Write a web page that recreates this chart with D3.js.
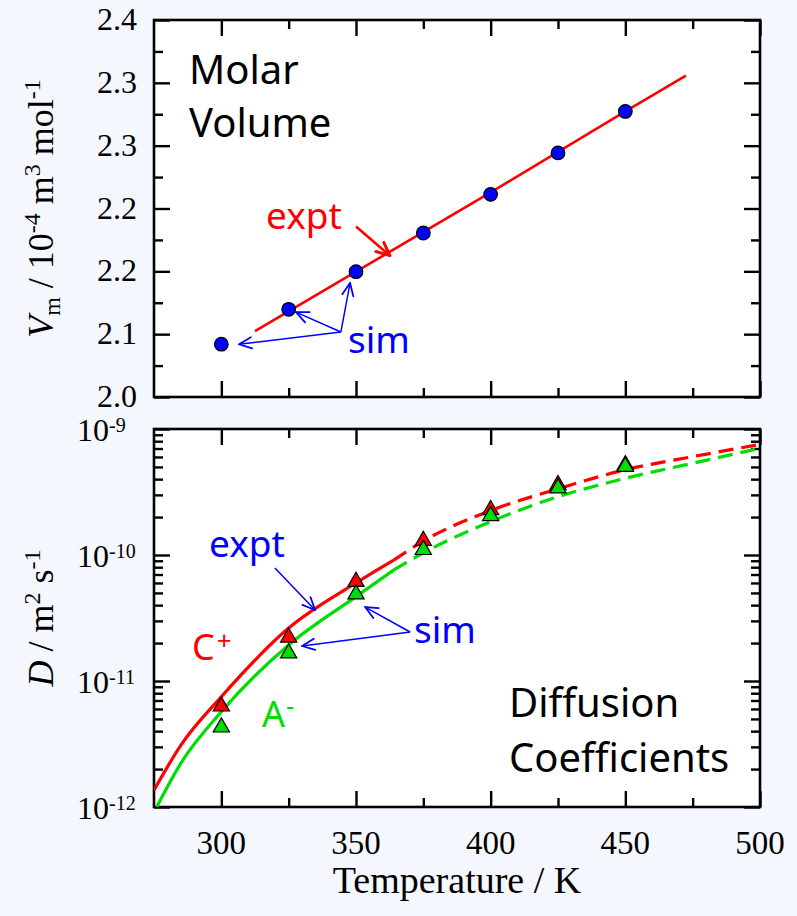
<!DOCTYPE html>
<html>
<head>
<meta charset="utf-8">
<script src="https://cdn.jsdelivr.net/npm/d3@7"></script>
<style>
  html, body { margin: 0; padding: 0; background: #f5f7fe; }
  svg { display: block; }
</style>
</head>
<body>
<svg id="chart" width="797" height="916"></svg>
<script>
// ---- data ----
const simTemps = [300, 325, 350, 375, 400, 425, 450];
const vmSim = [2.056, 2.093, 2.133, 2.174, 2.215, 2.259, 2.303];
const vmExptTemps = [312.5, 350, 400, 450, 472.5];
const vmExpt = [2.070, 2.133, 2.217, 2.303, 2.341];

const dSimCation = [6.3e-12, 2.22e-11, 6.14e-11, 1.30e-10, 2.28e-10, 3.60e-10, 5.18e-10];
const dSimAnion  = [4.29e-12, 1.66e-11, 4.88e-11, 1.10e-10, 2.04e-10, 3.39e-10, 5.03e-10];

// measured range (solid) and extrapolation (dashed)
const dExptCationTemps = [275, 285, 300, 325, 350, 364];
const dExptCation      = [1.36e-12, 3.1e-12, 7.5e-12, 2.63e-11, 6.0e-11, 9.1e-11];
const dExtrapCationTemps = [364, 375, 400, 425, 450, 475, 500];
const dExtrapCation      = [9.1e-11, 1.29e-10, 2.25e-10, 3.35e-10, 4.75e-10, 6.03e-10, 7.55e-10];

const dExptAnionTemps = [276, 285, 300, 325, 350, 364];
const dExptAnion      = [1.0e-12, 2.23e-12, 5.7e-12, 1.93e-11, 4.67e-11, 7.6e-11];
const dExtrapAnionTemps = [364, 375, 400, 425, 450, 475, 500];
const dExtrapAnion      = [7.6e-11, 1.04e-10, 1.84e-10, 2.9e-10, 4.06e-10, 5.35e-10, 7.03e-10];

const xTickValues = [300, 350, 400, 450, 500];
const xMinorValues = [325, 375, 425, 475];
const vmTickLabels = ["2.0", "2.1", "2.2", "2.2", "2.3", "2.3", "2.4"];
const dDecades = [1e-12, 1e-11, 1e-10, 1e-9];
const dDecadeExponents = ["-12", "-11", "-10", "-9"];

// ---- layout ----
const svg = d3.select("#chart");
const W = 797, H = 916;
const left = 154, right = 760;
const topPanel = { top: 20, bottom: 397 };
const botPanel = { top: 429, bottom: 807 };

const RED = "#ff0000", GREEN = "#00dd00", BLUE = "#0000ff";
const SERIF = "'Liberation Serif', 'Times New Roman', serif";
const SANS = "'Noto Sans', 'DejaVu Sans', sans-serif";

svg.append("rect").attr("width", W).attr("height", H).attr("fill", "#f5f7fe");

const x = d3.scaleLinear().domain([275, 500]).range([left, right]);
const yVm = d3.scaleLinear().domain([2.0, 2.4]).range([topPanel.bottom, topPanel.top]);
const yD = d3.scaleLog().domain([1e-12, 1e-9]).range([botPanel.bottom, botPanel.top]);

const vmTickValues = vmTickLabels.map((_, i) => 2.0 + i * 0.4 / 6);
const vmMinorValues = vmTickValues.slice(0, -1).map((v, i) => (v + vmTickValues[i + 1]) / 2);
const dMinorValues = [];
dDecades.slice(0, -1).forEach(d => { for (let k = 2; k <= 9; k++) dMinorValues.push(d * k); });

// arrowheads
const defs = svg.append("defs");
function arrowMarker(id, color, size, width) {
  defs.append("marker")
    .attr("id", id)
    .attr("viewBox", "0 0 12 12")
    .attr("refX", 11).attr("refY", 6)
    .attr("markerWidth", size).attr("markerHeight", size)
    .attr("markerUnits", "userSpaceOnUse")
    .attr("orient", "auto")
    .append("path")
    .attr("d", "M1,1.5 L11,6 L1,10.5")
    .attr("fill", "none")
    .attr("stroke", color)
    .attr("stroke-width", width)
    .attr("stroke-linecap", "round")
    .attr("stroke-linejoin", "miter");
}
arrowMarker("arrowBlue", BLUE, 15, 1.4);
arrowMarker("arrowRed", RED, 16, 2.2);

function clip(id, panel) {
  defs.append("clipPath").attr("id", id).append("rect")
    .attr("x", left).attr("y", panel.top)
    .attr("width", right - left).attr("height", panel.bottom - panel.top);
}
clip("clipTop", topPanel);
clip("clipBot", botPanel);

// panel background, ticks and frame
function drawFrame(panel, yScale, majorY, minorY) {
  const g = svg.append("g");
  g.append("rect")
    .attr("x", left).attr("y", panel.top)
    .attr("width", right - left).attr("height", panel.bottom - panel.top)
    .attr("fill", "#ffffff");

  const tickGroups = [
    [d3.axisBottom(x), xTickValues, 16, `translate(0,${panel.bottom})`],
    [d3.axisBottom(x), xMinorValues, 9, `translate(0,${panel.bottom})`],
    [d3.axisTop(x), xTickValues, 16, `translate(0,${panel.top})`],
    [d3.axisTop(x), xMinorValues, 9, `translate(0,${panel.top})`],
    [d3.axisLeft(yScale), majorY, 16, `translate(${left},0)`],
    [d3.axisLeft(yScale), minorY, 9, `translate(${left},0)`],
    [d3.axisRight(yScale), majorY, 16, `translate(${right},0)`],
    [d3.axisRight(yScale), minorY, 9, `translate(${right},0)`]
  ];
  tickGroups.forEach(([axis, vals, len, tr]) => {
    const a = g.append("g").attr("transform", tr)
      .call(axis.tickValues(vals).tickSize(-len).tickFormat(""));
    a.select(".domain").remove();
    a.selectAll("line").attr("stroke", "#000").attr("stroke-width", 2.4);
  });

  g.append("rect")
    .attr("x", left).attr("y", panel.top)
    .attr("width", right - left).attr("height", panel.bottom - panel.top)
    .attr("fill", "none").attr("stroke", "#000").attr("stroke-width", 2.6);
  return g;
}

drawFrame(topPanel, yVm, vmTickValues, vmMinorValues);
drawFrame(botPanel, yD, dDecades, dMinorValues);

// ---- top panel: molar volume ----
const topG = svg.append("g").attr("clip-path", "url(#clipTop)");
const lineVm = d3.line().x(d => x(d[0])).y(d => yVm(d[1]));
topG.append("path")
  .datum(vmExptTemps.map((t, i) => [t, vmExpt[i]]))
  .attr("d", lineVm)
  .attr("fill", "none").attr("stroke", RED).attr("stroke-width", 2.6);

topG.selectAll("circle.sim")
  .data(simTemps.map((t, i) => [t, vmSim[i]]))
  .join("circle")
  .attr("class", "sim")
  .attr("cx", d => x(d[0])).attr("cy", d => yVm(d[1]))
  .attr("r", 6.8)
  .attr("fill", BLUE).attr("stroke", "#000").attr("stroke-width", 1.2);

// tick labels (top)
svg.append("g").selectAll("text")
  .data(vmTickValues)
  .join("text")
  .attr("x", 137).attr("y", d => yVm(d) + 10)
  .attr("text-anchor", "end")
  .attr("font-family", SERIF).attr("font-size", 32)
  .attr("fill", "#000")
  .text((d, i) => vmTickLabels[i]);

// y title (top)
const vmTitle = svg.append("text")
  .attr("transform", `translate(53,${(topPanel.top + topPanel.bottom) / 2}) rotate(-90)`)
  .attr("text-anchor", "middle")
  .attr("font-family", SERIF).attr("font-size", 36).attr("fill", "#000");
vmTitle.append("tspan").attr("font-style", "italic").text("V");
vmTitle.append("tspan").attr("font-size", 24).attr("dy", 7).text("m");
vmTitle.append("tspan").attr("dy", -7).text(" / 10");
vmTitle.append("tspan").attr("font-size", 24).attr("dy", -13).text("-4");
vmTitle.append("tspan").attr("dy", 13).text(" m");
vmTitle.append("tspan").attr("font-size", 24).attr("dy", -13).text("3");
vmTitle.append("tspan").attr("dy", 13).text(" mol");
vmTitle.append("tspan").attr("font-size", 24).attr("dy", -13).text("-1");

// annotations (top)
function label(txt, px, py, color, size) {
  return svg.append("text").attr("x", px).attr("y", py)
    .attr("font-family", SANS).attr("font-size", size).attr("fill", color).text(txt);
}
label("Molar", 189, 84, "#000", 40);
label("Volume", 189, 137, "#000", 40);
label("expt", 266, 229, RED, 37);
label("sim", 348, 353, BLUE, 37);

function arrow(from, to, marker, color, width) {
  svg.append("line")
    .attr("x1", from[0]).attr("y1", from[1])
    .attr("x2", to[0]).attr("y2", to[1])
    .attr("stroke", color).attr("stroke-width", width)
    .attr("marker-end", `url(#${marker})`);
}
// red arrow pointing at the experimental line
arrow([x(350), yVm(2.181)], [x(362.6), yVm(2.150)], "arrowRed", RED, 2.6);
// blue arrows from "sim" to the first three points
const simHubTop = [x(344.4), yVm(2.069)];
arrow(simHubTop, [x(306.6), yVm(2.056)], "arrowBlue", BLUE, 1.5);
arrow(simHubTop, [x(327.7), yVm(2.090)], "arrowBlue", BLUE, 1.5);
arrow(simHubTop, [x(347.8), yVm(2.121)], "arrowBlue", BLUE, 1.5);

// ---- bottom panel: diffusion coefficients ----
const botG = svg.append("g").attr("clip-path", "url(#clipBot)");
const lineD = d3.line().curve(d3.curveMonotoneX).x(d => x(d[0])).y(d => yD(d[1]));
function dCurve(ts, vs, color, dashed) {
  botG.append("path")
    .datum(ts.map((t, i) => [t, vs[i]]))
    .attr("d", lineD)
    .attr("fill", "none").attr("stroke", color).attr("stroke-width", 3.2)
    .attr("stroke-dasharray", dashed ? "15,8" : null);
}
dCurve(dExptCationTemps, dExptCation, RED, false);
dCurve(dExtrapCationTemps, dExtrapCation, RED, true);
dCurve(dExptAnionTemps, dExptAnion, GREEN, false);
dCurve(dExtrapAnionTemps, dExtrapAnion, GREEN, true);

const tri = d3.symbol().type(d3.symbolTriangle).size(115);
function triangles(vals, color) {
  botG.append("g").selectAll("path")
    .data(simTemps.map((t, i) => [t, vals[i]]))
    .join("path")
    .attr("transform", d => `translate(${x(d[0])},${yD(d[1])})`)
    .attr("d", tri)
    .attr("fill", color).attr("stroke", "#000").attr("stroke-width", 1.2);
}
triangles(dSimCation, RED);
triangles(dSimAnion, GREEN);

// tick labels (bottom, log)
const dLabels = svg.append("g").selectAll("text")
  .data(dDecades)
  .join("text")
  .attr("x", 77).attr("y", d => yD(d) + 12)
  .attr("font-family", SERIF).attr("font-size", 32).attr("fill", "#000");
dLabels.append("tspan").text("10");
dLabels.append("tspan").attr("font-size", 20).attr("dy", -9).text((d, i) => dDecadeExponents[i]);

// x tick labels
svg.append("g").selectAll("text")
  .data(xTickValues)
  .join("text")
  .attr("x", d => x(d)).attr("y", 854)
  .attr("text-anchor", "middle")
  .attr("font-family", SERIF).attr("font-size", 33).attr("fill", "#000")
  .text(d => d);

svg.append("text")
  .attr("x", (left + right) / 2).attr("y", 893)
  .attr("text-anchor", "middle")
  .attr("font-family", SERIF).attr("font-size", 38).attr("fill", "#000")
  .text("Temperature / K");

// y title (bottom)
const dTitle = svg.append("text")
  .attr("transform", `translate(53,${(botPanel.top + botPanel.bottom) / 2}) rotate(-90)`)
  .attr("text-anchor", "middle")
  .attr("font-family", SERIF).attr("font-size", 36).attr("fill", "#000");
dTitle.append("tspan").attr("font-style", "italic").text("D");
dTitle.append("tspan").text(" / m");
dTitle.append("tspan").attr("font-size", 24).attr("dy", -13).text("2");
dTitle.append("tspan").attr("dy", 13).text(" s");
dTitle.append("tspan").attr("font-size", 24).attr("dy", -13).text("-1");

// annotations (bottom)
label("expt", 209, 557, BLUE, 37);
const cLab = label("C", 192, 660, RED, 36);
cLab.append("tspan").attr("font-size", 26).attr("dy", -10).attr("dx", 2).text("+");
const aLab = label("A", 262, 727, GREEN, 36);
aLab.append("tspan").attr("font-size", 26).attr("dy", -12).attr("dx", 1).text("-");
label("sim", 414, 643, BLUE, 37);
label("Diffusion", 509, 717, "#000", 40);
label("Coefficients", 509, 772, "#000", 40);

arrow([x(319.9), yD(Math.pow(10, -10.103))], [x(334.8), yD(Math.pow(10, -10.437))], "arrowBlue", BLUE, 1.5);
const simHubBot = [x(370.1), yD(Math.pow(10, -10.611))];
arrow(simHubBot, [x(353.4), yD(Math.pow(10, -10.413))], "arrowBlue", BLUE, 1.5);
arrow(simHubBot, [x(330.0), yD(Math.pow(10, -10.722))], "arrowBlue", BLUE, 1.5);
</script>
</body>
</html>
